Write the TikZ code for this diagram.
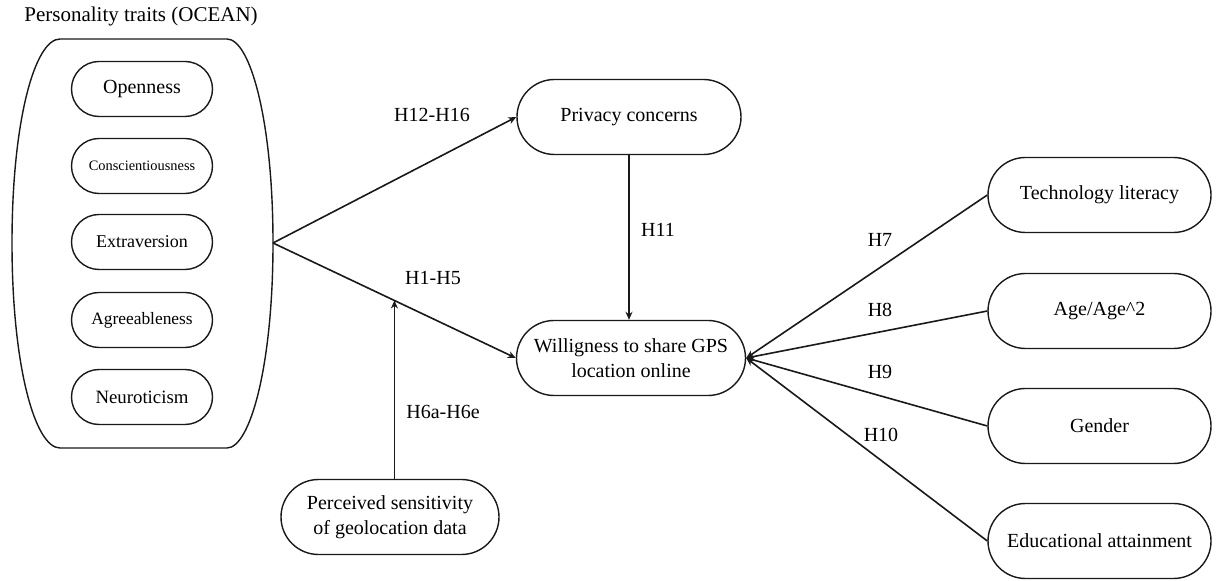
\documentclass[tikz,border=0pt]{standalone}
\usepackage{fontspec}
\setmainfont{Liberation Serif}
\usepackage{tikz}
\usetikzlibrary{arrows.meta, shapes.misc, calc, positioning}
\definecolor{lineBlack}{RGB}{25,25,25}

\begin{document}
\begin{tikzpicture}[
    x=0.5pt, y=-0.5pt,
    >={Stealth[length=4pt,width=3.5pt]},
    % Large rounded block (constructs)
    procC/.style={
        rounded rectangle, draw=lineBlack,
        line width=0.7pt,
        minimum width=115.5pt, minimum height=37.5pt,
        align=center, inner sep=2pt,
        font=\fontsize{10}{12.5}\selectfont
    },
    % Small rounded block (OCEAN traits)
    procT/.style={
        rounded rectangle, draw=lineBlack,
        line width=0.7pt,
        minimum width=74.5pt, minimum height=27.5pt,
        align=center, inner sep=2pt
    },
    % Hypothesis labels
    hyp/.style={font=\fontsize{10}{12}\selectfont, inner sep=1pt},
    link/.style={->, line width=0.8pt, draw=lineBlack}
]
\useasboundingbox (0,0) rectangle (1219,581);
% ── OCEAN container ──────────────────────────────────────────
\node[font=\fontsize{10.5}{12}\selectfont] (oceanlbl) at (141,16)
    {Personality traits (OCEAN)};
\draw[line width=0.7pt, draw=lineBlack]
    (60,39) -- (227,39)
    .. controls (250,39) and (273,120) .. (273,243)
    .. controls (273,366) and (250,448) .. (227,448)
    -- (60,448)
    .. controls (35,448) and (12,366) .. (12,243)
    .. controls (12,120) and (35,39) .. cycle;
\coordinate (ocean) at (273,243);
% ── Traits (x = 142) ─────────────────────────────────────────
\node[procT, font=\fontsize{10}{12}\selectfont]  (open)  at (142, 89) {Openness};
\node[procT, font=\fontsize{7.2}{9}\selectfont]  (consc) at (142,166) {Conscientiousness};
\node[procT, font=\fontsize{9}{11}\selectfont]   (extra) at (142,242) {Extraversion};
\node[procT, font=\fontsize{8.7}{10}\selectfont] (agree) at (142,320) {Agreeableness};
\node[procT, font=\fontsize{9.4}{11}\selectfont] (neuro) at (142,397) {Neuroticism};
% ── Middle column ────────────────────────────────────────────
\node[procC, minimum width=116pt] (privacy) at (629,117) {Privacy concerns};
\node[procC, minimum width=118.5pt] (will) at (631,358)
    {Willigness to share GPS\\location online};
\node[procC, minimum width=113pt] (percv) at (390,517)
    {Perceived sensitivity\\of geolocation data};
% ── Right column (x = 1099.5) ────────────────────────────────
\node[procC] (tech)   at (1099.5,195) {Technology literacy};
\node[procC] (age)    at (1099.5,311) {Age/Age\^{}2};
\node[procC] (gender) at (1099.5,426) {Gender};
\node[procC] (edu)    at (1099.5,541) {Educational attainment};
% ── Arrows: personality paths ────────────────────────────────
\draw[link] (ocean) -- (privacy.west);
\draw[link] (ocean) -- (will.west);
% moderator arrow meets the H1-H5 line halfway
\coordinate (mod) at ($(ocean)!0.5!(will.west)$);
\draw[link] (percv.north -| mod) -- (mod);
% privacy concerns down to willingness
\draw[link] (privacy.south) -- (privacy.south |- will.north);
% ── Arrows: controls into willingness ────────────────────────
\foreach \ctl in {tech, age, gender, edu}
    \draw[link] (\ctl.west) -- (will.east);
% ── Hypothesis labels ────────────────────────────────────────
\node[hyp] (h12) at (432,115) {H12-H16};
\node[hyp] (h1)  at (433,278) {H1-H5};
\node[hyp] (h6)  at (443,412) {H6a-H6e};
\node[hyp] (h11) at (658,230) {H11};
\node[hyp] (h7)  at (880,240) {H7};
\node[hyp] (h8)  at (880,310) {H8};
\node[hyp] (h9)  at (880,372) {H9};
\node[hyp] (h10) at (881,435) {H10};
\end{tikzpicture}
\end{document}
